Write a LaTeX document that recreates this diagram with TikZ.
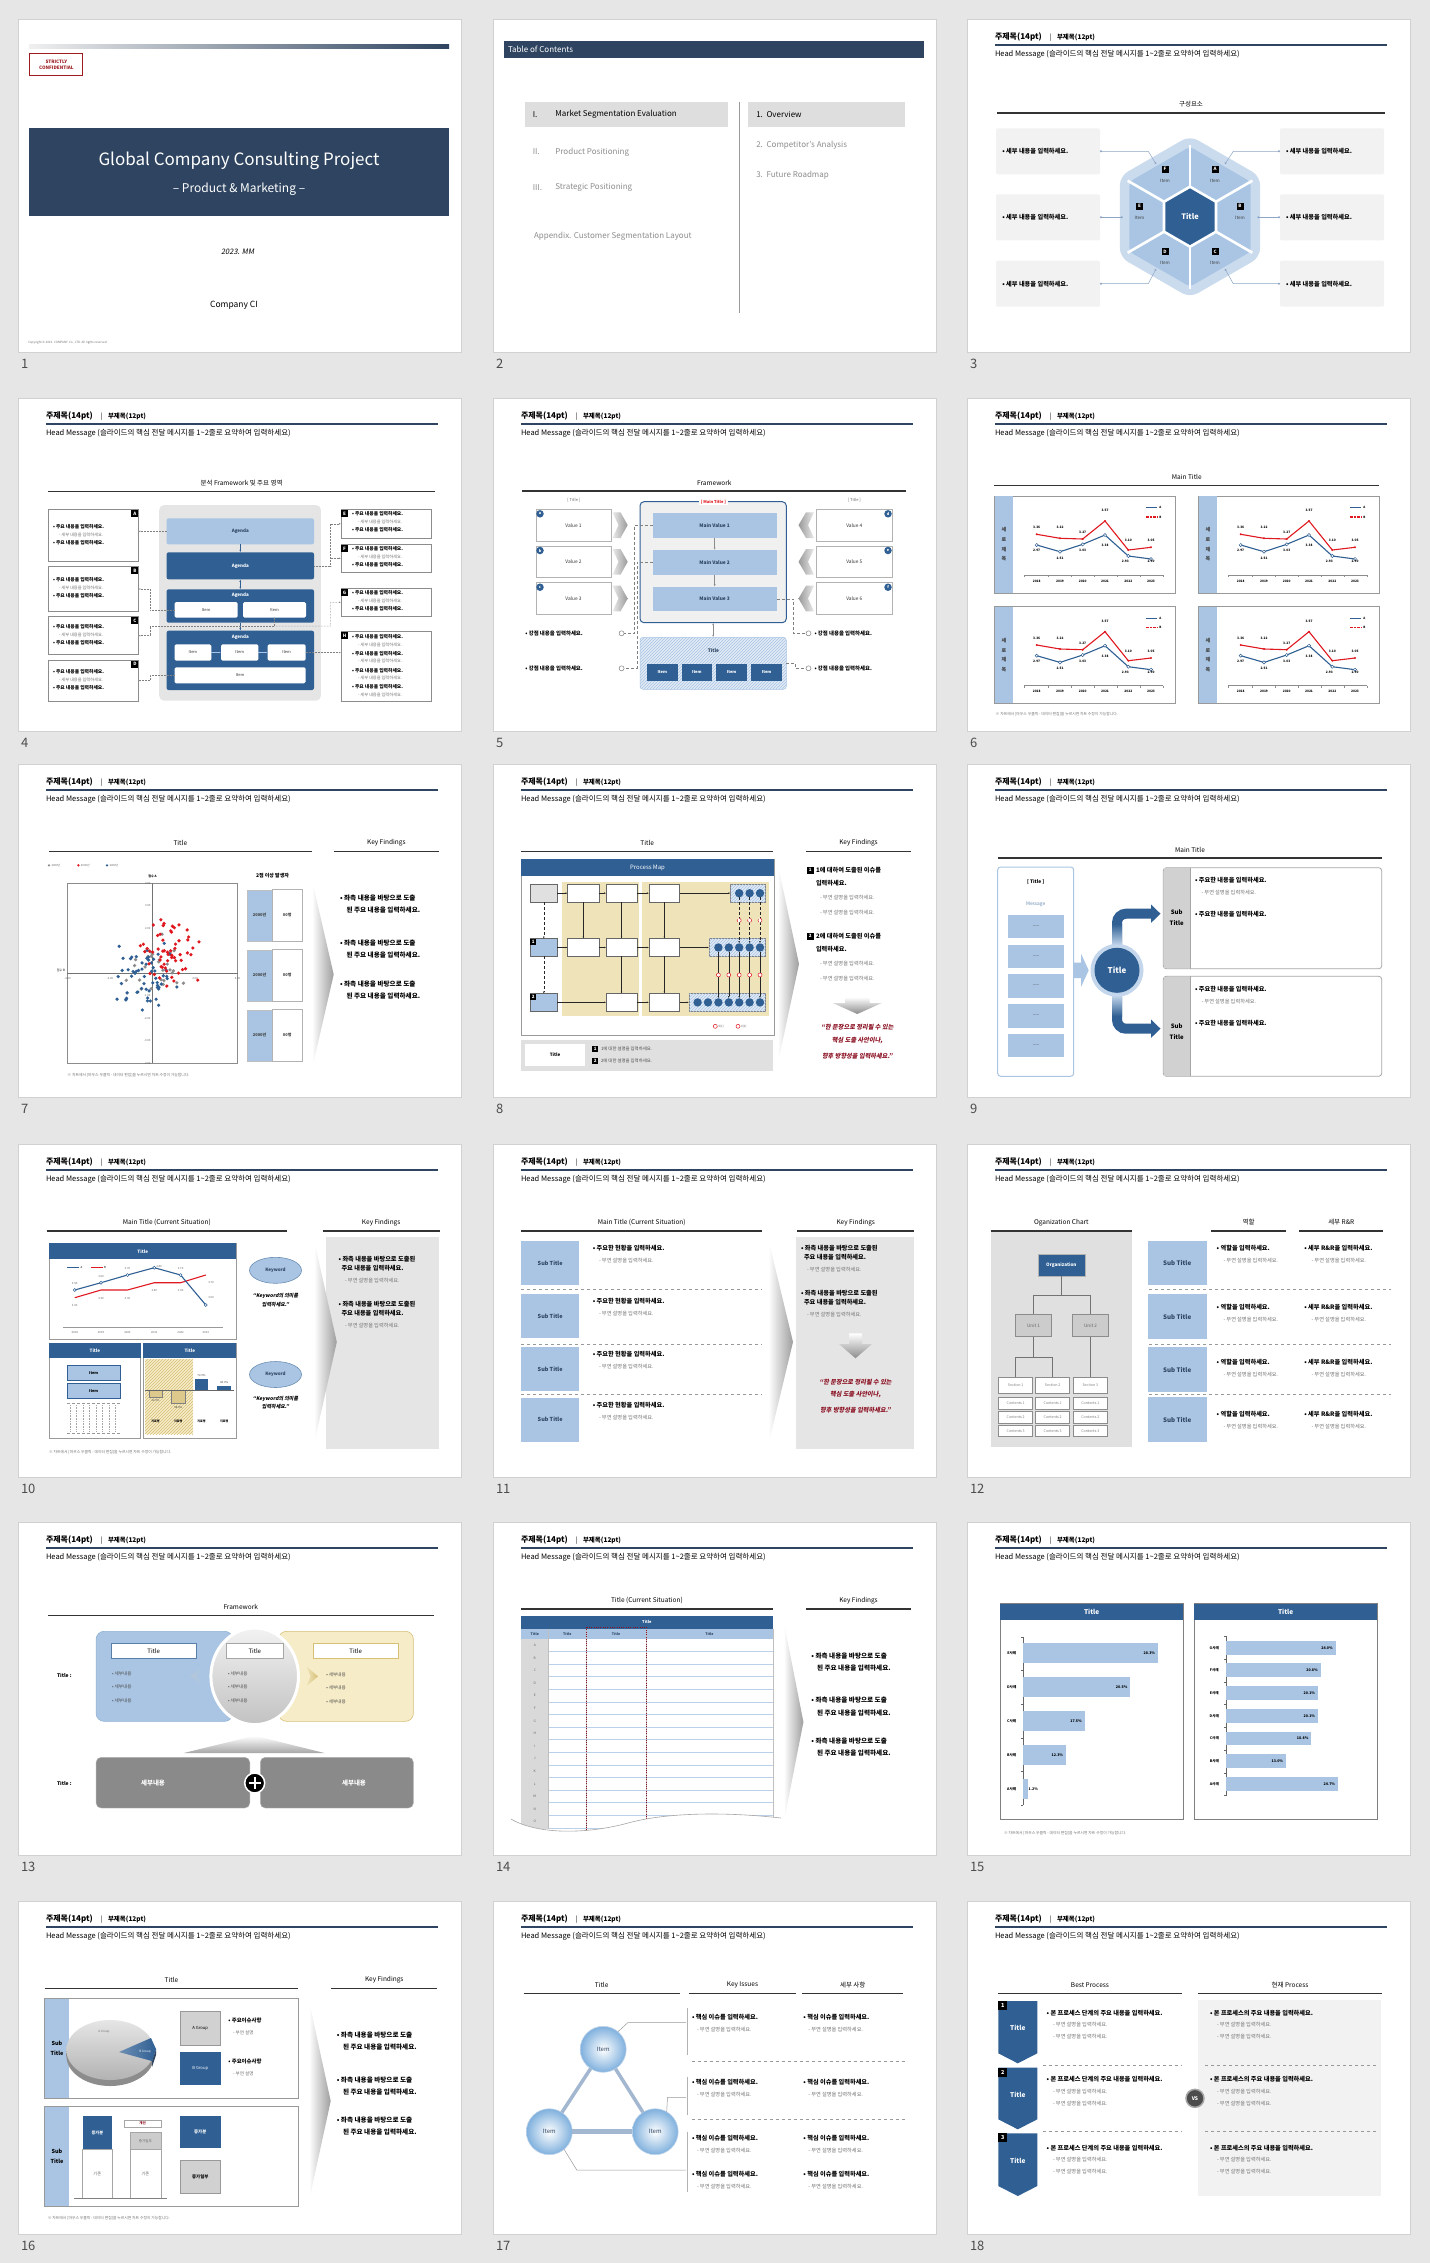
\documentclass[tikz,border=0pt]{standalone}
\usepackage{fontspec}
\setmainfont{Noto Sans CJK KR}
\newfontfamily\slantfont[FakeSlant=0.18]{Noto Sans CJK KR}
\usetikzlibrary{positioning,arrows.meta,patterns,shapes.geometric}

\definecolor{pagebg}{HTML}{E6E6E6}
\definecolor{slatenavy}{HTML}{2E4460}
\definecolor{mainnavy}{HTML}{2F5F93}
\definecolor{paleblue}{HTML}{A9C5E3}
\definecolor{hexlight}{HTML}{CADBEE}
\definecolor{panelgray}{HTML}{F2F2F2}
\definecolor{confred}{HTML}{9E1B20}
\definecolor{chartred}{HTML}{E01820}
\definecolor{quotered}{HTML}{8B1022}
\definecolor{sand}{HTML}{EFE4B9}
\definecolor{sandlight}{HTML}{F6ECC8}
\definecolor{sandline}{HTML}{D6BF76}
\definecolor{linkblue}{HTML}{8EA6C4}
\definecolor{sphereblue}{HTML}{7FB0DD}
\definecolor{edgeblue}{HTML}{A3B7D0}
\definecolor{darkgraybox}{HTML}{8A8A8A}

\newcommand{\fsz}[1]{\fontsize{#1}{#1}\selectfont}

\tikzset{
  slide/.style={fill=white, draw=black!18, line width=0.8pt},
  slnum/.style={font=\fsz{13}, text=black!70, anchor=west},
  hdtitle/.style={font=\fsz{8}\bfseries, anchor=west},
  hdsub/.style={font=\fsz{6.5}\bfseries, anchor=west},
  hdmsg/.style={font=\fsz{7.5}, anchor=west},
  hdline/.style={draw=slatenavy, line width=1.2pt},
  secline/.style={draw=black!80, line width=1.1pt},
  sechead/.style={font=\fsz{6.5}},
  toc/.style={font=\fsz{8}, anchor=west},
  bul/.style={font=\fsz{6.2}\bfseries, anchor=west},
  note/.style={font=\fsz{5.2}, text=black!55, anchor=west},
  foot/.style={font=\fsz{3.8}, text=black!55, anchor=west},
  finding/.style={font=\fsz{6.6}\bfseries, anchor=west},
  redquote/.style={font=\fsz{6.2}\slantfont\bfseries, text=quotered},
  navybox/.style={fill=mainnavy, text=white},
  palebox/.style={fill=paleblue},
  whitebox/.style={fill=white, draw=black!45, line width=0.6pt},
  graybox/.style={fill=panelgray},
  itembox/.style={fill=white, rounded corners=1.5pt, font=\fsz{4}, text=black!80},
  letterbox/.style={fill=black, text=white, font=\fsz{4.5}\bfseries, minimum size=7pt},
  dotlink/.style={draw=black!50, densely dotted, line width=0.5pt, -{Latex[length=2pt]}},
  dashlink/.style={draw=black!50, densely dashed, line width=0.5pt},
  hexlink/.style={draw=linkblue, line width=0.5pt, {Circle[length=2pt]}-{Circle[length=2pt]}},
  navyarrow/.style={draw=mainnavy, line width=0.8pt, -{Latex[length=2.5pt]}},
  grayarrow/.style={draw=black!45, line width=0.8pt, -{Latex[length=2.5pt]}},
  pmarrow/.style={draw=black!85, line width=0.5pt, -{Latex[length=2.2pt]}},
  sepline/.style={draw=black!40, dashed, line width=0.5pt},
  hatched/.style={fill=paleblue!35, draw=black!50, line width=0.5pt, postaction={pattern=north east lines, pattern color=paleblue}},
  redring/.style={circle, draw=chartred, fill=white, line width=0.5pt, minimum size=4pt},
  sphere/.style={circle, minimum size=46pt, inner color=white, outer color=sphereblue, draw=paleblue!70, line width=0.6pt, font=\fsz{6}, text=slatenavy},
}

% box given by its top left and bottom right corner
\newcommand{\bx}[7]{\node[#1, anchor=north west, minimum width={(#5-#3)*1pt}, minimum height={(#6-#4)*1pt}] (#2) at (#3,#4) {#7};}
\newcommand{\slideframe}[2]{\draw[slide] (0,0) rectangle (443,333); \node[slnum] (#1) at (3,345) {#2};}
\newcommand{\slidehead}[1]{%
  \node[hdtitle] (#1ht) at (28,18) {주제목(14pt)};
  \node[hdsub, text=black!55] (#1bar) at (82.5,18.5) {|};
  \node[hdsub] (#1hs) at (90,18.5) {부제목(12pt)};
  \draw[hdline] (28,26) -- (420,26);
  \node[hdmsg] (#1hm) at (28,35.5) {Head Message (슬라이드의 핵심 전달 메시지를 1\textasciitilde 2줄로 요약하여 입력하세요)};
}
\newcommand{\sectitle}[5]{%
  \draw[secline] (#2,#4) -- (#3,#4);
  \node[sechead] (#1) at ({(#2+#3)/2},{#4-8.5}) {#5};
}
\newcommand{\fadearrow}[4]{\shade[left color=white, right color=black!38] (#1,#3) -- (#2,{(#3+#4)/2}) -- (#1,#4) -- cycle;}
\newcommand{\chartnote}[3]{\node[foot] (#1) at (#2,#3) {※ 차트에서 [마우스 우클릭 - 데이터 편집]을 누르시면 차트 수정이 가능합니다.};}

\newcommand{\trendpanel}[3]{%
  \begin{scope}[shift={(#2,#3)}]
    \bx{whitebox, draw=black!40, line width=0.8pt}{#1}{0}{0}{181}{97}{}
    \fill[paleblue] (0.4,0.4) rectangle (19,96.6);
    \node[font=\fontsize{5}{9.6}\selectfont\bfseries, align=center, text=black!75] (#1v) at (9.5,48.5) {세\\로\\제\\목};
    \draw[black!45, line width=0.5pt] (29.7,79) -- (169,79);
    \foreach \x in {29.7,54,77,99.5,122.4,145.4,169}
      \draw[black!45, line width=0.4pt] (\x,79) -- (\x,81);
    \foreach \x/\yr in {42.4/2018,65.7/2019,88.4/2020,110.7/2021,134/2022,156.7/2023}
      \node[font=\fsz{3.2}\bfseries] (#1y\yr) at (\x,85) {\yr};
    \draw[chartred, line width=1.1pt] (42.4,38.3) -- (65.7,42.3) -- (88.4,43) -- (110.7,25) -- (134,54) -- (156.7,51.3);
    \draw[mainnavy, line width=1.1pt] (42.4,49) -- (65.7,55.7) -- (88.4,48.3) -- (110.7,39) -- (134,60) -- (156.7,63);
    \foreach \x/\y in {42.4/38.3,65.7/42.3,88.4/43,110.7/25,134/54,156.7/51.3}
      \fill[chartred] (\x,\y) circle (1.1);
    \foreach \x/\y in {42.4/49,65.7/55.7,88.4/48.3,110.7/39,134/60,156.7/63}
      \filldraw[fill=white, draw=mainnavy, line width=0.5pt] (\x,\y) circle (1.6);
    \foreach \x/\y/\val [count=\i] in {42.4/31.5/3.36,65.7/31.5/3.22,88.4/36.7/3.27,110.7/14.7/3.57,134/44.7/3.10,156.7/44.3/3.05}
      \node[font=\fsz{3.2}\bfseries] (#1r\i) at (\x,\y) {\val};
    \foreach \x/\y/\val [count=\i] in {42.4/54.3/2.97,65.7/62/2.51,88.4/54.3/3.03,110.7/49.3/3.38,131/65.5/2.93,156.7/65.5/2.90}
      \node[font=\fsz{3.2}\bfseries] (#1b\i) at (\x,\y) {\val};
    \draw[mainnavy, line width=1.1pt] (152,11.7) -- (163,11.7);
    \node[font=\fsz{3}\bfseries] (#1la) at (166,11.7) {A};
    \draw[chartred, line width=1.1pt, dash pattern=on 2.5pt off 1pt] (152,21) -- (163,21);
    \node[font=\fsz{3}\bfseries] (#1lb) at (166,21) {B};
  \end{scope}}

\begin{document}
\begin{tikzpicture}[x=1pt, y=-1pt, every node/.append style={inner sep=0pt, outer sep=0pt}]
\useasboundingbox (0,0) rectangle (1430,2263);
\fill[pagebg] (0,0) rectangle (1430,2263);

% slide 1: cover
\begin{scope}[shift={(18,19)}]
  \slideframe{s1n}{1}
  \shade[left color=black!6, right color=slatenavy] (11.4,25) rectangle (431,29);
  \node[draw=confred, line width=0.9pt, fill=white, text=confred, font=\fontsize{4.6}{6}\selectfont\bfseries, align=center, minimum width=53pt, minimum height=22pt] (s1conf) at (38.4,45.5) {STRICTLY\\CONFIDENTIAL};
  \bx{fill=slatenavy}{s1band}{11.4}{109}{431}{197}{}
  \node[font=\fsz{17}, text=white] (s1title) at (221,141.5) {Global Company Consulting Project};
  \node[font=\fsz{12}, text=white] (s1sub) at (221,170.3) {– Product \& Marketing –};
  \node[font=\fsz{7.5}\slantfont] (s1date) at (219.6,233) {2023. MM};
  \node[font=\fsz{8.5}] (s1ci) at (216,286) {Company CI};
  \node[foot, font=\fsz{3}] (s1copy) at (10,323.7) {Copyright © 2023. COMPANY. Co., LTD. All rights reserved.};
\end{scope}

% slide 2: contents
\begin{scope}[shift={(493,19)}]
  \slideframe{s2n}{2}
  \bx{fill=slatenavy}{s2bar}{11}{22}{430.5}{39.3}{}
  \node[toc, text=white] (s2toc) at (15,30.7) {Table of Contents};
  \bx{fill=black!13}{s2sel}{32.4}{82.7}{234.5}{107.7}{}
  \bx{fill=black!13}{s2ovb}{255.3}{82.7}{412}{107.7}{}
  \draw[black!40, line width=0.6pt] (246.7,82.7) -- (246.7,294.3);
  \node[toc] (s2r1) at (39.8,95.2) {I.};
  \node[toc] (s2p1) at (62.4,95.2) {Market Segmentation Evaluation};
  \node[toc, text=black!45] (s2r2) at (39.8,133) {II.};
  \node[toc, text=black!45] (s2p2) at (62.4,133) {Product Positioning};
  \node[toc, text=black!45] (s2r3) at (39.8,168.7) {III.};
  \node[toc, text=black!45] (s2p3) at (62.4,168.7) {Strategic Positioning};
  \node[toc, text=black!45] (s2app) at (41,217.3) {Appendix. Customer Segmentation Layout};
  \node[toc] (s2o1) at (263.3,95.3) {1.\ \ Overview};
  \node[toc, text=black!45] (s2o2) at (263.3,126.7) {2.\ \ Competitor's Analysis};
  \node[toc, text=black!45] (s2o3) at (263.3,156.7) {3.\ \ Future Roadmap};
\end{scope}

% slide 3: hexagon
\begin{scope}[shift={(967,19)}]
  \slideframe{s3n}{3}
  \slidehead{s3}
  \sectitle{s3sec}{30.3}{417.7}{94}{구성요소}
  \foreach \ya [count=\i] in {109.3,175.3,241.7} {
    \bx{graybox, rounded corners=2pt}{s3l\i}{29}{\ya}{133}{\ya+46}{}
    \bx{graybox, rounded corners=2pt}{s3r\i}{313}{\ya}{417}{\ya+46}{}
    \node[bul] (s3lt\i) at (35.3,\ya+23) {• 세부 내용을 입력하세요.};
    \node[bul] (s3rt\i) at (319,\ya+23) {• 세부 내용을 입력하세요.};
  }
  \begin{scope}[shift={(223,197.7)}]
    \fill[hexlight, rounded corners=9pt] (90:81) -- (30:81) -- (-30:81) -- (-90:81) -- (-150:81) -- (150:81) -- cycle;
    \fill[paleblue, rounded corners=4pt] (90:70) -- (30:70) -- (-30:70) -- (-90:70) -- (-150:70) -- (150:70) -- cycle;
    \foreach \a in {90,30,-30,-90,-150,150}
      \draw[white, line width=2.6pt] (0,0) -- (\a:72);
    \filldraw[fill=mainnavy, draw=white, line width=2.6pt] (90:30) -- (30:30) -- (-30:30) -- (-90:30) -- (-150:30) -- (150:30) -- cycle;
    \node[font=\fsz{7.5}\bfseries, text=white] (s3title) at (0,0) {Title};
    \foreach \lt/\x/\y in {A/25/-47.4, B/50/-10.7, C/25/35, D/-25/35, E/-50.5/-10.7, F/-25/-47.4} {
      \node[letterbox] (s3k\lt) at (\x,\y) {\lt};
      \node[font=\fsz{4.5}, text=black!75] (s3i\lt) at (\x,\y+11.5) {Item};
    }
  \end{scope}
  \coordinate (s3pA) at (258,145);
  \coordinate (s3pB) at (290.3,198.3);
  \coordinate (s3pC) at (258,250);
  \coordinate (s3pD) at (189,250);
  \coordinate (s3pE) at (155.7,198.3);
  \coordinate (s3pF) at (189,145);
  \draw[hexlink] (s3l1.east) -- (181.3,132.3) -- (s3pF);
  \draw[hexlink] (s3l2.east) -- (s3pE);
  \draw[hexlink] (s3l3.east) -- (181.3,264.7) -- (s3pD);
  \draw[hexlink] (s3pA) -- (266.3,132.3) -- (s3r1.west);
  \draw[hexlink] (s3pB) -- (s3r2.west);
  \draw[hexlink] (s3pC) -- (266.3,264.7) -- (s3r3.west);
\end{scope}

% slide 4: framework with agendas
\begin{scope}[shift={(18,398)}]
  \slideframe{s4n}{4}
  \slidehead{s4}
  \sectitle{s4sec}{29.8}{417.4}{93.7}{분석 Framework 및 주요 영역}
  \foreach \nm/\ya/\yb in {A/111.3/163.7, B/168.7/213.3, C/218.7/256.7, D/262/303.3} {
    \bx{whitebox}{s4box\nm}{29.8}{\ya}{120.4}{\yb}{}
    \node[letterbox, anchor=north east] (s4let\nm) at (120.4,\ya+0.6) {\nm};
    \pgfmathsetmacro{\yc}{(\ya+\yb)/2}
    \node[bul, font=\fsz{4.8}\bfseries] (s4b\nm1) at (35,\yc-9) {• 주요 내용을 입력하세요.};
    \node[note, font=\fsz{4.2}] (s4b\nm2) at (41,\yc-1) {- 세부 내용을 입력하세요.};
    \node[bul, font=\fsz{4.8}\bfseries] (s4b\nm3) at (35,\yc+7) {• 주요 내용을 입력하세요.};
  }
  \bx{fill=black!10, rounded corners=5pt}{s4bg}{141.2}{107}{302.9}{302.7}{}
  \bx{palebox, rounded corners=2pt, font=\fsz{4.5}\bfseries, text=slatenavy}{s4ag1}{148.6}{120.3}{296}{146.3}{Agenda}
  \bx{navybox, rounded corners=2pt, font=\fsz{4.5}\bfseries}{s4ag2}{148.6}{154.3}{296}{181.3}{Agenda}
  \bx{navybox, rounded corners=2pt}{s4ag3}{148.6}{191.3}{296}{224.7}{}
  \bx{navybox, rounded corners=2pt}{s4ag4}{148.6}{232.7}{296}{292}{}
  \node[font=\fsz{4.5}\bfseries, text=white] (s4ag3t) at (222.3,197.5) {Agenda};
  \node[font=\fsz{4.5}\bfseries, text=white] (s4ag4t) at (222.3,239) {Agenda};
  \bx{itembox}{s4i31}{156.5}{204}{219.6}{219.7}{Item}
  \bx{itembox}{s4i32}{225}{204}{288}{219.7}{Item}
  \bx{itembox}{s4i41}{156.5}{246.3}{193.3}{262.7}{Item}
  \bx{itembox}{s4i42}{203}{246.3}{240.4}{262.7}{Item}
  \bx{itembox}{s4i43}{249.6}{246.3}{287.6}{262.7}{Item}
  \bx{itembox}{s4i44}{156.5}{269.3}{287.6}{285.3}{Item}
  \draw[navyarrow] (s4ag1) -- (s4ag2);
  \draw[navyarrow, {Latex[length=2.5pt]}-{Latex[length=2.5pt]}] (s4ag2) -- (s4ag3);
  \draw[navyarrow] (s4ag3) -- (s4ag4);
  \draw[paleblue, line width=0.6pt, -{Latex[length=2pt]}] (s4i41) -- (s4i42);
  \draw[paleblue, line width=0.6pt, -{Latex[length=2pt]}] (s4i42) -- (s4i43);
  \foreach \nm/\ya/\yb in {E/111.3/140.3, F/146.3/174.3, G/190.3/218.3, H/233.3/303.3} {
    \bx{whitebox}{s4box\nm}{323}{\ya}{413.7}{\yb}{}
    \node[letterbox, anchor=north west] (s4let\nm) at (323,\ya+0.6) {\nm};
  }
  \foreach \nm/\ya in {E/111.3, F/146.3, G/190.3} {
    \node[bul, font=\fsz{4.8}\bfseries] (s4b\nm1) at (334,\ya+4.5) {• 주요 내용을 입력하세요.};
    \node[note, font=\fsz{4.2}] (s4b\nm2) at (340,\ya+12.6) {- 세부 내용을 입력하세요.};
    \node[bul, font=\fsz{4.8}\bfseries] (s4b\nm3) at (334,\ya+20.8) {• 주요 내용을 입력하세요.};
  }
  \foreach \y [count=\i] in {239,255.3,272.3,288.7} {
    \node[bul, font=\fsz{4.8}\bfseries] (s4bHa\i) at (334,\y) {• 주요 내용을 입력하세요.};
    \node[note, font=\fsz{4.2}] (s4bHb\i) at (340,\y+8) {- 세부 내용을 입력하세요.};
  }
  \draw[dotlink] (s4ag1.west) -- (s4ag1.west -| s4boxA.east);
  \draw[dotlink] (s4i31.west) -- ++(-24.5,0) |- (s4boxB.east);
  \draw[dotlink] (s4i32.south) -- ++(0,8.3) -| (132,237.7) -- (s4boxC.east);
  \draw[dotlink] (s4i32.south) ++(0,8.3) -- (312.7,228) |- (s4boxG.west);
  \draw[dotlink] (s4i44.west) -- ++(-24.5,0) |- (s4boxD.east);
  \draw[dotlink] (s4ag2.east) -- ++(16.7,0) |- (s4boxE.west);
  \draw[dotlink] (s4ag2.east) -- ++(16.7,0) |- (s4boxF.west);
  \draw[dotlink] (s4i43.east) -- (s4i43.east -| s4boxH.west);
\end{scope}

% slide 5: framework with values
\begin{scope}[shift={(493,398)}]
  \slideframe{s5n}{5}
  \slidehead{s5}
  \sectitle{s5sec}{29.4}{413.3}{93}{Framework}
  \node[font=\fsz{4}, text=black!60] (s5tl) at (80.8,102) {[ Title ]};
  \node[font=\fsz{4}, text=black!60] (s5tr) at (361.3,102) {[ Title ]};
  \bx{fill=black!6, draw=mainnavy, line width=1pt, rounded corners=4pt}{s5main}{147}{103.7}{293.3}{224.7}{}
  \node[fill=white, text=chartred, font=\fsz{4}\bfseries, inner xsep=2pt, inner ysep=1pt] (s5mt) at (220.4,103.7) {[ Main Title ]};
  \foreach \ya [count=\i] in {115.3,152,188.7} {
    \bx{palebox, font=\fsz{4.8}\bfseries, text=slatenavy}{s5mv\i}{159.8}{\ya}{283.5}{\ya+24.5}{Main Value \i}
  }
  \draw[grayarrow] (s5mv1) -- (s5mv2);
  \draw[grayarrow] (s5mv2) -- (s5mv3);
  \foreach \ya/\lt [count=\i] in {111.3/a,148/b,184.7/c} {
    \bx{whitebox, draw=black!30, font=\fsz{4.8}, text=black!80}{s5v\i}{42.8}{\ya}{118}{\ya+31.7}{Value \i}
    \node[circle, fill=mainnavy, text=white, font=\fsz{3.8}\bfseries, minimum size=7.5pt] (s5c\lt) at (47,\ya+4.5) {\lt};
    \shade[left color=black!8, right color=black!40] (119.5,\ya+3) -- (127.5,\ya+3) -- (134.7,\ya+15.8) -- (127.5,\ya+28.7) -- (119.5,\ya+28.7) -- (125.5,\ya+15.8) -- cycle;
  }
  \foreach \ya/\lt/\num in {111.3/d/4,148/e/5,184.7/f/6} {
    \bx{whitebox, draw=black!30, font=\fsz{4.8}, text=black!80}{s5v\num}{323.3}{\ya}{399.2}{\ya+31.7}{Value \num}
    \node[circle, fill=mainnavy, text=white, font=\fsz{3.8}\bfseries, minimum size=7.5pt] (s5c\lt) at (395,\ya+4.5) {\lt};
    \shade[left color=black!40, right color=black!8] (321,\ya+3) -- (313,\ya+3) -- (305.5,\ya+15.8) -- (313,\ya+28.7) -- (321,\ya+28.7) -- (315,\ya+15.8) -- cycle;
  }
  \bx{hatched, draw=paleblue, rounded corners=3pt}{s5tb}{147}{239.3}{293.3}{291.3}{}
  \node[font=\fsz{4.8}\bfseries, text=slatenavy] (s5tbt) at (220.4,253) {Title};
  \foreach \x [count=\i] in {154,188.6,223.4,258.4} {
    \bx{navybox, font=\fsz{4}\bfseries}{s5it\i}{\x}{266}{\x+30.5}{282.7}{Item}
  }
  \draw[grayarrow, {Latex[length=2.5pt]}-{Latex[length=2.5pt]}] (s5main.south) -- (s5tb.north);
  \node[bul, font=\fsz{5.4}\bfseries] (s5sl1) at (32.4,235.3) {• 강점 내용을 입력하세요.};
  \node[bul, font=\fsz{5.4}\bfseries] (s5sl2) at (32.4,270.3) {• 강점 내용을 입력하세요.};
  \node[bul, font=\fsz{5.4}\bfseries] (s5sr1) at (321.5,235.3) {• 강점 내용을 입력하세요.};
  \node[bul, font=\fsz{5.4}\bfseries] (s5sr2) at (321.5,270.3) {• 강점 내용을 입력하세요.};
  \node[circle, draw=black!50, fill=white, line width=0.5pt, minimum size=5pt] (s5o1) at (128.6,235.3) {};
  \node[circle, draw=black!50, fill=white, line width=0.5pt, minimum size=5pt] (s5o2) at (128.6,270.3) {};
  \node[circle, draw=black!50, fill=white, line width=0.5pt, minimum size=5pt] (s5o3) at (315.5,235.3) {};
  \node[circle, draw=black!50, fill=white, line width=0.5pt, minimum size=5pt] (s5o4) at (315.5,270.3) {};
  \draw[dashlink] (s5mv1.west) -| (140.8,235.3) -- (s5o1);
  \draw[dashlink] (s5mv2.west) -| (144,270.3) -- (s5o2);
  \draw[dashlink] (s5mv3.east) -| (300,235.3) -- (s5o3);
  \draw[dashlink] (s5tb.east) -| (302.5,270.3) -- (s5o4);
\end{scope}

% slide 6: four trend charts
\begin{scope}[shift={(967,398)}]
  \slideframe{s6n}{6}
  \slidehead{s6}
  \sectitle{s6sec}{27.3}{412.3}{87.7}{Main Title}
  \trendpanel{s6a}{27.3}{98}
  \trendpanel{s6b}{231.3}{98}
  \trendpanel{s6c}{27.3}{208.7}
  \trendpanel{s6d}{231.3}{208.7}
  \chartnote{s6note}{28.7}{316}
\end{scope}

% slide 7: scatter plot
\begin{scope}[shift={(18,764)}]
  \slideframe{s7n}{7}
  \slidehead{s7}
  \sectitle{s7sec}{31}{293.7}{87.7}{Title}
  \sectitle{s7key}{315.7}{421}{87.7}{Key Findings}
  \foreach \cl/\x [count=\i] in {black!45/31, chartred/60.4, mainnavy/89} {
    \fill[\cl] (\x,101.3) circle (1.3);
    \node[font=\fsz{2.8}, text=black!60, anchor=west] (s7lg\i) at (\x+2.5,101.3) {2000년};
  }
  \draw[black!45, line width=0.5pt] (49.4,119) rectangle (219.6,299);
  \draw[black!55, line width=0.5pt] (134.5,119) -- (134.5,299);
  \draw[black!55, line width=0.5pt] (49.4,209) -- (219.6,209);
  \node[font=\fsz{3}\bfseries] (s7ya) at (134.5,112) {점수 A};
  \node[font=\fsz{3}, anchor=east] (s7xa) at (47,206) {점수 B};
  \foreach \j in {-4,-3,-2,-1,1,2,3,4}
    \node[font=\fsz{2.8}, text=black!60, anchor=east] (s7v\j) at (132.5,{209-22.5*\j}) {\j.00};
  \foreach \j/\lab in {-2/-4.00,-1/-2.00,1/2.00,2/4.00}
    \node[font=\fsz{2.8}, text=black!60] (s7h\j) at ({134.5+42.5*\j},214.5) {\lab};
  \pgfmathsetseed{11}
  \foreach \i in {1,...,26} {
    \pgfmathsetmacro{\px}{136+19*(rand+rand)}
    \pgfmathsetmacro{\py}{198+20*(rand+rand)}
    \fill[black!45] (\px,\py) circle (1.8);
  }
  \foreach \i in {1,...,60} {
    \pgfmathsetmacro{\px}{128+17*(rand+rand)}
    \pgfmathsetmacro{\py}{212+20*(rand+rand)}
    \fill[mainnavy] (\px,\py) circle (1.8);
  }
  \foreach \i in {1,...,60} {
    \pgfmathsetmacro{\px}{150+17*(rand+rand)}
    \pgfmathsetmacro{\py}{190+20*(rand+rand)}
    \fill[chartred] (\px,\py) circle (1.8);
  }
  \node[bul, font=\fsz{5}\bfseries, anchor=center] (s7cnt) at (254.5,111.7) {2점 이상 발생자};
  \foreach \ya [count=\i] in {125.7,185.7,245.7} {
    \bx{palebox, draw=black!25, font=\fsz{4}\bfseries, text=black!75}{s7yr\i}{228.8}{\ya}{254.5}{\ya+51.3}{2000년}
    \bx{whitebox, draw=black!30, font=\fsz{4}\bfseries, text=black!75}{s7ct\i}{254.5}{\ya}{283.9}{\ya+51.3}{00명}
  }
  \fadearrow{294}{315.7}{116}{305}
  \foreach \y [count=\i] in {134,178.7,219.7} {
    \node[finding] (s7fa\i) at (322,\y) {• 좌측 내용을 바탕으로 도출};
    \node[finding] (s7fb\i) at (328.5,\y+12.5) {된 주요 내용을 입력하세요.};
  }
  \chartnote{s7note}{49.4}{311.3}
\end{scope}

% slide 8: process map
\begin{scope}[shift={(493,764)}]
  \slideframe{s8n}{8}
  \slidehead{s8}
  \sectitle{s8sec}{28}{280.4}{87.7}{Title}
  \sectitle{s8key}{312.9}{418.2}{87.7}{Key Findings}
  \bx{whitebox, draw=black!40}{s8map}{28}{95.3}{281}{271.3}{}
  \bx{navybox, font=\fsz{6}}{s8mh}{28}{95.3}{281}{112.3}{Process Map}
  \fill[sand] (69.1,118.3) rectangle (146.3,252.3);
  \fill[sand] (149.4,118.3) rectangle (275.5,252.3);
  \bx{fill=black!12, draw=black!60, line width=0.5pt}{s8a0}{37.3}{120}{64.3}{138.3}{}
  \bx{fill=paleblue, draw=black!60, line width=0.5pt}{s8b0}{37.3}{174.7}{64.3}{192.3}{}
  \bx{fill=paleblue, draw=black!60, line width=0.5pt}{s8c0}{37.3}{229.7}{64.3}{247}{}
  \node[letterbox, minimum size=6pt, anchor=north west] (s8n1) at (s8b0.north west) {1};
  \node[letterbox, minimum size=6pt, anchor=north west] (s8n2) at (s8c0.north west) {2};
  \foreach \nm/\ya/\yb in {a/120/138.3, b/174.7/192.3} {
    \bx{whitebox, draw=black!60, line width=0.5pt}{s8\nm1}{74.7}{\ya}{106}{\yb}{}
  }
  \foreach \nm/\ya/\yb in {a/120/138.3, b/174.7/192.3, c/229.7/247} {
    \bx{whitebox, draw=black!60, line width=0.5pt}{s8\nm2}{113.2}{\ya}{143.9}{\yb}{}
    \bx{whitebox, draw=black!60, line width=0.5pt}{s8\nm3}{156.1}{\ya}{186.7}{\yb}{}
  }
  \bx{hatched}{s8h1}{237.6}{120}{272.5}{138.3}{}
  \bx{hatched}{s8h2}{216.1}{174.7}{272.5}{192.3}{}
  \bx{hatched}{s8h3}{195.9}{229.7}{272.5}{247}{}
  \foreach \i in {1,2,3}
    \node[circle, fill=mainnavy, minimum size=8.4pt] (s8p1\i) at ({267-10.4*(\i-1)},129.2) {};
  \foreach \i in {1,...,5}
    \node[circle, fill=mainnavy, minimum size=8.4pt] (s8p2\i) at ({267-10.4*(\i-1)},183.5) {};
  \foreach \i in {1,...,7}
    \node[circle, fill=mainnavy, minimum size=8.4pt] (s8p3\i) at ({267-10.4*(\i-1)},238.4) {};
  \draw[pmarrow] (s8a0) -- (s8a1);
  \draw[pmarrow] (s8a1) -- (s8a2);
  \draw[pmarrow] (s8a2) -- (s8a3);
  \draw[pmarrow] (s8a3) -- (s8h1);
  \draw[pmarrow] (s8b0) -- (s8b1);
  \draw[pmarrow] (s8b1) -- (s8b2);
  \draw[pmarrow] (s8b2) -- (s8b3);
  \draw[pmarrow] (s8b3) -- (s8h2);
  \draw[pmarrow] (s8c0) -- (s8c2);
  \draw[pmarrow] (s8c2) -- (s8c3);
  \draw[pmarrow] (s8c3) -- (s8h3);
  \draw[pmarrow] (s8a1) -- (s8b1);
  \draw[pmarrow] (s8a2) -- (s8b2);
  \draw[pmarrow] (s8b2) -- (s8c2);
  \draw[pmarrow] (s8a3) -- (s8b3);
  \draw[pmarrow] (s8b3) -- (s8c3);
  \draw[pmarrow, densely dashed] (s8a0) -- (s8b0);
  \draw[pmarrow, densely dashed] (s8b0) -- (s8c0);
  \foreach \i in {1,2,3}
    \draw[pmarrow, densely dashed] (s8p1\i) -- node[redring] {} (s8p2\i);
  \foreach \i in {1,...,5}
    \draw[pmarrow] (s8p2\i) -- node[redring] {} (s8p3\i);
  \node[redring] (s8lg1) at (222.3,262.3) {};
  \node[font=\fsz{3}, text=black!60, anchor=west] (s8lt1) at (225.5,262.3) {0(1)};
  \node[redring] (s8lg2) at (245,262.3) {};
  \node[font=\fsz{3}, text=black!60, anchor=west] (s8lt2) at (248.2,262.3) {0(2)};
  \bx{fill=black!12}{s8leg}{28}{276.3}{280.4}{307.3}{}
  \bx{fill=white, font=\fsz{4.5}\bfseries}{s8legt}{32.4}{279.7}{91.8}{302.3}{Title}
  \node[letterbox, minimum size=6pt] (s8k1) at (102.2,285.3) {1};
  \node[letterbox, minimum size=6pt] (s8k2) at (102.2,297) {2};
  \node[note, font=\fsz{4.4}, text=black!70] (s8kt1) at (108,285.3) {1에 대한 설명을 입력하세요.};
  \node[note, font=\fsz{4.4}, text=black!70] (s8kt2) at (108,297) {2에 대한 설명을 입력하세요.};
  \fadearrow{284.7}{306}{100}{300}
  \foreach \i/\dy in {1/0,2/66} {
    \node[letterbox] (s8f\i) at (317.2,106.3+\dy) {\i};
    \node[bul] (s8fa\i) at (323,106.3+\dy) {{\i}에 대하여 도출된 이슈를};
    \node[bul] (s8fb\i) at (323,119+\dy) {입력하세요.};
    \node[note] (s8fc\i) at (327,134+\dy) {- 부연 설명을 입력하세요.};
    \node[note] (s8fd\i) at (327,148.7+\dy) {- 부연 설명을 입력하세요.};
  }
  \shade[top color=white, bottom color=black!45] (352,233) -- (376.6,233) -- (376.6,239) -- (388.8,239) -- (364.3,250) -- (339.8,239) -- (352,239) -- cycle;
  \node[redquote] (s8q1) at (364.3,263) {“한 문장으로 정리될 수 있는};
  \node[redquote] (s8q2) at (364.3,276.3) {핵심 도출 사안이나,};
  \node[redquote] (s8q3) at (364.3,292) {향후 방향성을 입력하세요.”};
\end{scope}

% slide 9: message to two sub titles
\begin{scope}[shift={(967,764)}]
  \slideframe{s9n}{9}
  \slidehead{s9}
  \sectitle{s9sec}{31.3}{414.7}{94}{Main Title}
  \bx{fill=white, draw=paleblue, line width=1pt, rounded corners=3pt}{s9msg}{30.7}{103}{106.7}{312.3}{}
  \node[font=\fsz{4.8}\bfseries] (s9mt) at (68.7,118.3) {[ Title ]};
  \node[font=\fsz{4.8}, text=mainnavy!70] (s9mm) at (68.7,140.3) {Message};
  \foreach \ya [count=\i] in {150.7,180.7,210.3,240.3,269.7} {
    \bx{palebox, font=\fsz{4.5}, text=black!70}{s9m\i}{41.3}{\ya}{97}{\ya+23.5}{-----}
  }
  \fill[paleblue] (106.7,198.5) -- (114,198.5) -- (114,189.7) -- (121.7,206.3) -- (114,223) -- (114,214) -- (106.7,214) -- cycle;
  \bx{fill=white, draw=black!35, line width=0.8pt, rounded corners=3pt}{s9sub1}{196.3}{103.7}{414.7}{204.7}{}
  \bx{fill=white, draw=black!35, line width=0.8pt, rounded corners=3pt}{s9sub2}{196.3}{212.3}{414.7}{312.3}{}
  \fill[black!18] (196.8,104.2) rectangle (223,204.2);
  \fill[black!18] (196.8,212.8) rectangle (223,311.8);
  \draw[black!35, line width=0.8pt] (223,103.7) -- (223,204.7) (223,212.3) -- (223,312.3);
  \node[font=\fontsize{6}{11}\selectfont\bfseries, align=center] (s9st1) at (209.7,154) {Sub\\Title};
  \node[font=\fontsize{6}{11}\selectfont\bfseries, align=center] (s9st2) at (209.7,268) {Sub\\Title};
  \foreach \ya [count=\i] in {116.3,225.3} {
    \node[bul] (s9ba\i) at (228,\ya) {• 주요한 내용을 입력하세요.};
    \node[note] (s9bb\i) at (234.5,\ya+12.4) {- 부연 설명을 입력하세요.};
    \node[bul] (s9bc\i) at (228,\ya+34) {• 주요한 내용을 입력하세요.};
  }
  \node[circle, fill=paleblue!70, minimum size=53pt] (s9ring) at (150,206.3) {};
  \draw[mainnavy, line width=10pt, rounded corners=9pt] (s9ring.north) -- (150,149.7) -- (186,149.7);
  \shade[top color=mainnavy, bottom color=paleblue!70] (145,160) rectangle (155,181);
  \fill[mainnavy] (184,140.5) -- (193.5,149.7) -- (184,158.9) -- cycle;
  \draw[mainnavy, line width=10pt, rounded corners=9pt] (s9ring.south) -- (150,264.7) -- (186,264.7);
  \shade[top color=paleblue!70, bottom color=mainnavy] (145,231.5) rectangle (155,252);
  \fill[mainnavy] (184,255.5) -- (193.5,264.7) -- (184,273.9) -- cycle;
  \node[circle, fill=mainnavy, minimum size=45pt, font=\fsz{8}\bfseries, text=white] (s9title) at (s9ring) {Title};
\end{scope}

% slide 10: charts and keywords
\begin{scope}[shift={(18,1144)}]
  \slideframe{s10n}{10}
  \slidehead{s10}
  \sectitle{s10sec}{28.5}{269.2}{87}{Main Title (Current Situation)}
  \sectitle{s10key}{304.7}{421.7}{87}{Key Findings}
  \bx{whitebox, draw=black!40, line width=0.8pt}{s10ch}{31}{99.3}{218.4}{195}{}
  \bx{navybox, font=\fsz{4.5}\bfseries}{s10chh}{31}{99.3}{218.4}{115}{Title}
  \draw[black!40, line width=0.5pt] (45,183.7) -- (205,183.7);
  \foreach \x/\yr in {56.7/2018,83/2019,109.4/2020,136.3/2021,162.6/2022,187.8/2023}
    \node[font=\fsz{2.8}, text=black!60] (s10y\yr) at (\x,188.5) {\yr};
  \draw[chartred, line width=1.1pt] (56.7,153.7) -- (83,146) -- (109.4,146) -- (136.3,138.7) -- (162.6,138.7) -- (187.8,131);
  \draw[mainnavy, line width=1.1pt] (56.7,146) -- (83,138.7) -- (109.4,131) -- (136.3,123.7) -- (162.6,131) -- (187.8,161);
  \foreach \x/\y in {56.7/146,83/138.7,109.4/131,136.3/123.7,162.6/131,187.8/161}
    \filldraw[fill=white, draw=mainnavy, line width=0.5pt] (\x,\y) circle (1.5);
  \foreach \x/\y/\val [count=\i] in {56.7/139/3.50,83/132/3.60,109.4/124.5/3.70,141/122/3.80,162.6/124.5/3.70,193/153/3.00}
    \node[font=\fsz{2.8}, text=black!60] (s10bl\i) at (\x,\y) {\val};
  \foreach \x/\y/\val [count=\i] in {56.7/161/3.00,83/154/3.30,109.4/154/3.30,136.3/146.5/3.40,162.6/146.5/3.40,193/138/3.70}
    \node[font=\fsz{2.8}, text=black!60] (s10rl\i) at (\x,\y) {\val};
  \draw[mainnavy, line width=1pt] (49.4,123) -- (61,123);
  \node[font=\fsz{2.8}, anchor=west] (s10la) at (62.5,123) {A};
  \draw[chartred, line width=1pt] (73,123) -- (84.6,123);
  \node[font=\fsz{2.8}, anchor=west] (s10lb) at (86,123) {B};
  \bx{whitebox, draw=black!40, line width=0.8pt}{s10p2}{31}{199.3}{122.8}{294.3}{}
  \bx{navybox, font=\fsz{4.5}\bfseries}{s10p2h}{31}{199.3}{122.8}{214.3}{Title}
  \bx{palebox, draw=mainnavy, line width=0.5pt, font=\fsz{3.8}\bfseries}{s10it1}{49.4}{221.7}{102}{236.7}{Item}
  \bx{palebox, draw=mainnavy, line width=0.5pt, font=\fsz{3.8}\bfseries}{s10it2}{49.4}{239.3}{102}{254.3}{Item}
  \draw[black!40, densely dashed, line width=0.5pt] (49.4,259) -- (102,259) (49.4,289) -- (102,289);
  \foreach \x in {52,58.5,...,100}
    \draw[black!35, densely dotted, line width=0.6pt] (\x,261) -- (\x,287);
  \bx{whitebox, draw=black!40, line width=0.8pt}{s10p3}{125.3}{199.3}{218.4}{294.3}{}
  \bx{navybox, font=\fsz{4.5}\bfseries}{s10p3h}{125.3}{199.3}{218.4}{214.3}{Title}
  \fill[sandlight] (127,215) rectangle (175,290);
  \fill[pattern=north east lines, pattern color=sandline] (127,215) rectangle (175,290);
  \filldraw[fill=sandline!85, draw=black!50, line width=0.4pt] (130.8,246) rectangle (144.3,252.7);
  \filldraw[fill=sandline!85, draw=black!50, line width=0.4pt] (153.5,246) rectangle (167,259.3);
  \fill[mainnavy] (176.7,235.3) rectangle (190.2,246);
  \fill[mainnavy] (199.4,241.7) rectangle (212.9,246);
  \draw[black!60, line width=0.5pt] (127,246) -- (216,246);
  \foreach \x/\y/\val [count=\i] in {137.5/256.5/42.0\%,160.3/263/58.0\%,183.5/231.5/72.0\%,206.2/238/48.0\%}
    \node[font=\fsz{2.8}, text=black!70] (s10bv\i) at (\x,\y) {\val};
  \foreach \x [count=\i] in {137.5,160.3,183.5,206.2}
    \node[font=\fsz{3}\bfseries] (s10bx\i) at (\x,277.7) {지표명};
  \node[ellipse, minimum width=52pt, minimum height=26pt, fill=paleblue, draw=mainnavy!70, line width=0.6pt, font=\fsz{4.5}\bfseries, text=slatenavy] (s10kw1) at (257.5,126.3) {Keyword};
  \node[ellipse, minimum width=52pt, minimum height=26pt, fill=paleblue, draw=mainnavy!70, line width=0.6pt, font=\fsz{4.5}\bfseries, text=slatenavy] (s10kw2) at (257.5,230.5) {Keyword};
  \node[font=\fontsize{5}{8.6}\selectfont\slantfont\bfseries, align=center] (s10kq1) at (257.5,156) {“Keyword의 의미를\\입력하세요.”};
  \node[font=\fontsize{5}{8.6}\selectfont\slantfont\bfseries, align=center] (s10kq2) at (257.5,258.8) {“Keyword의 의미를\\입력하세요.”};
  \bx{fill=black!10}{s10kf}{307.8}{92.7}{420.5}{305.3}{}
  \fadearrow{296}{318.8}{96}{300}
  \foreach \y [count=\i] in {115.3,160.3} {
    \node[bul] (s10fa\i) at (320.6,\y) {• 좌측 내용을 바탕으로 도출된};
    \node[bul] (s10fb\i) at (323.5,\y+9) {주요 내용을 입력하세요.};
    \node[note] (s10fc\i) at (327,\y+21.4) {- 부연 설명을 입력하세요.};
  }
  \chartnote{s10note}{31}{308.3}
\end{scope}

% slide 11: current situation rows
\begin{scope}[shift={(493,1144)}]
  \slideframe{s11n}{11}
  \slidehead{s11}
  \sectitle{s11sec}{28}{269.4}{87}{Main Title (Current Situation)}
  \sectitle{s11key}{304.3}{421.3}{87}{Key Findings}
  \foreach \ya [count=\i] in {97,150.3,203.3,253.7} {
    \bx{palebox, font=\fsz{5.5}\bfseries, text=slatenavy}{s11sub\i}{28}{\ya}{86.3}{\ya+44}{Sub Title}
    \node[bul] (s11ba\i) at (99.8,\ya+7.3) {• 주요한 현황을 입력하세요.};
    \node[note] (s11bb\i) at (106,\ya+19.7) {- 부연 설명을 입력하세요.};
  }
  \foreach \y in {145.7,200,250.3}
    \draw[sepline] (28,\y) -- (269.4,\y);
  \bx{fill=black!10}{s11kf}{303}{92.7}{421.3}{305.3}{}
  \fadearrow{275.5}{300}{96}{300}
  \foreach \y [count=\i] in {104.3,149.3} {
    \node[bul] (s11fa\i) at (308,\y) {• 좌측 내용을 바탕으로 도출된};
    \node[bul] (s11fb\i) at (311,\y+9) {주요 내용을 입력하세요.};
    \node[note] (s11fc\i) at (314,\y+21.4) {- 부연 설명을 입력하세요.};
  }
  \shade[top color=white, bottom color=black!45] (356,189.3) -- (369,189.3) -- (369,200) -- (379,200) -- (362.5,214.3) -- (346,200) -- (356,200) -- cycle;
  \node[redquote] (s11q1) at (362.5,237.7) {“한 문장으로 정리될 수 있는};
  \node[redquote] (s11q2) at (362.5,250.3) {핵심 도출 사안이나,};
  \node[redquote] (s11q3) at (362.5,266.3) {향후 방향성을 입력하세요.”};
\end{scope}

% slide 12: organization chart
\begin{scope}[shift={(967,1144)}]
  \slideframe{s12n}{12}
  \slidehead{s12}
  \sectitle{s12sec}{23.7}{165}{87}{Oganization Chart}
  \sectitle{s12role}{244.3}{319}{87}{역할}
  \sectitle{s12rr}{332.3}{416.3}{87}{세부 R\&R}
  \bx{fill=black!12}{s12bg}{23.7}{88.3}{165}{302.7}{}
  \bx{navybox, draw=black!30, font=\fsz{4.6}\bfseries}{s12org}{71}{109.7}{117.7}{132.3}{Organization}
  \bx{fill=black!20, draw=black!45, line width=0.6pt, font=\fsz{4.6}, text=black!60}{s12u1}{48.3}{170}{84.7}{192.7}{Unit 1}
  \bx{fill=black!20, draw=black!45, line width=0.6pt, font=\fsz{4.6}, text=black!60}{s12u2}{105.3}{170}{141.7}{192.7}{Unit 2}
  \foreach \x [count=\i] in {31.7,68.7,106.3} {
    \bx{fill=white, draw=black!45, line width=0.6pt, font=\fsz{3.6}, text=black!50}{s12sec\i}{\x}{233.3}{\x+34}{249.3}{Section \i}
    \foreach \ya [count=\j] in {253.3,267.7,281} {
      \bx{fill=white, draw=black!45, line width=0.6pt, font=\fsz{3.6}, text=black!50}{s12c\i\j}{\x}{\ya}{\x+34}{\ya+11.7}{Contents \j}
    }
  }
  \draw[black!55, line width=0.7pt] (s12org.south) -- ++(0,18.7) -| (s12u1.north);
  \draw[black!55, line width=0.7pt] (s12org.south) -- ++(0,18.7) -| (s12u2.north);
  \draw[black!55, line width=0.7pt] (s12u1.south) -- ++(0,20.6) -| (s12sec1.north);
  \draw[black!55, line width=0.7pt] (s12u1.south) -- ++(0,20.6) -| (s12sec2.north);
  \draw[black!55, line width=0.7pt] (s12u2.south) -- (s12u2.south |- s12sec3.north);
  \foreach \ya/\yb/\yn [count=\i] in {97/104.3/116.7, 150.3/163/175.3, 203.3/218/230.3, 253.3/270/282.7} {
    \bx{palebox, font=\fsz{6.2}\bfseries, text=slatenavy}{s12sub\i}{180.7}{\ya}{239.7}{\ya+44.3}{Sub Title}
    \node[bul] (s12ra\i) at (249.7,\yb) {• 역할을 입력하세요.};
    \node[note] (s12rb\i) at (256.5,\yn) {- 부연 설명을 입력하세요.};
    \node[bul] (s12da\i) at (337.3,\yb) {• 세부 R\&R을 입력하세요.};
    \node[note] (s12db\i) at (344.5,\yn) {- 부연 설명을 입력하세요.};
  }
  \foreach \y in {145.3,200,250}
    \draw[sepline] (182.3,\y) -- (423.7,\y);
\end{scope}

% slide 13: three part framework
\begin{scope}[shift={(18,1522)}]
  \slideframe{s13n}{13}
  \slidehead{s13}
  \sectitle{s13sec}{29.8}{415.6}{93.3}{Framework}
  \bx{fill=paleblue, draw=paleblue!80!mainnavy, line width=0.6pt, rounded corners=8pt}{s13l}{78.1}{109.3}{214.7}{199.3}{}
  \bx{fill=sandlight, draw=sandline, line width=0.6pt, rounded corners=8pt}{s13r}{260.6}{109.3}{395.4}{199.3}{}
  \node[ellipse, minimum width=87.6pt, minimum height=96.6pt, draw=white, line width=3pt, top color=black!5, bottom color=black!24] (s13c) at (236.7,154.3) {};
  \bx{fill=white, draw=mainnavy!80, line width=0.9pt, font=\fsz{6}}{s13t1}{93.5}{121.7}{178}{136.7}{Title}
  \bx{fill=white, draw=black!35, line width=0.9pt, font=\fsz{6}}{s13t2}{208.6}{121.7}{265}{136.7}{Title}
  \bx{fill=white, draw=sandline, line width=0.9pt, font=\fsz{6}}{s13t3}{295.5}{121.7}{380}{136.7}{Title}
  \foreach \y [count=\i] in {151.3,165,178.7} {
    \node[font=\fsz{4.6}, text=black!70, anchor=west] (s13la\i) at (94,\y) {• 세부내용};
    \node[font=\fsz{4.6}, text=black!70, anchor=west] (s13ca\i) at (210,\y) {• 세부내용};
    \node[font=\fsz{4.6}, text=black!70, anchor=west] (s13ra\i) at (308.4,\y+1) {• 세부내용};
  }
  \shade[left color=mainnavy!35, right color=paleblue] (184,144.5) -- (172.5,154.3) -- (184,164.1) -- (180,154.3) -- cycle;
  \shade[left color=sand, right color=sandline] (288.5,144.5) -- (300,154.3) -- (288.5,164.1) -- (292.5,154.3) -- cycle;
  \node[font=\fsz{5}\bfseries] (s13tl1) at (46.3,153.7) {Title :};
  \node[font=\fsz{5}\bfseries] (s13tl2) at (46.3,261) {Title :};
  \shade[top color=white, bottom color=black!35] (165.7,231) -- (236.7,213.7) -- (306.6,231) -- cycle;
  \bx{fill=darkgraybox, draw=black!30, rounded corners=5pt}{s13d1}{78.1}{235.3}{231.8}{286}{}
  \bx{fill=darkgraybox, draw=black!30, rounded corners=5pt}{s13d2}{242.3}{235.3}{395.4}{286}{}
  \node[font=\fsz{6.5}\bfseries, text=white] (s13dt1) at (135,261) {세부내용};
  \node[font=\fsz{6.5}\bfseries, text=white] (s13dt2) at (336,261) {세부내용};
  \node[circle, fill=black, draw=white, line width=1.5pt, minimum size=20pt] (s13plus) at (236.7,261) {};
  \draw[white, line width=2.2pt] (230.5,261) -- (242.9,261) (236.7,254.8) -- (236.7,267.2);
\end{scope}

% slide 14: table
\begin{scope}[shift={(493,1522)}]
  \slideframe{s14n}{14}
  \slidehead{s14}
  \sectitle{s14sec}{28}{279.8}{87}{Title (Current Situation)}
  \sectitle{s14key}{312.9}{418.2}{87}{Key Findings}
  \bx{navybox, font=\fsz{4}\bfseries}{s14th}{28}{93.7}{279.8}{106.7}{Title}
  \bx{palebox}{s14sh}{28}{106.7}{279.8}{117}{}
  \fill[black!15] (28,117) rectangle (55.7,307);
  \foreach \x [count=\i] in {41.8,74.3,123,216.4}
    \node[font=\fsz{3.5}\bfseries, text=slatenavy] (s14c\i) at (\x,111.9) {Title};
  \foreach \lab [count=\i] in {A,B,C,D,E,F,G,H,I,J,K,L,M,N,O} {
    \node[font=\fsz{3.3}, text=black!60] (s14r\i) at (41.8,{110.7+12.6*\i}) {\lab};
    \draw[paleblue!80, line width=0.8pt] (55.7,{117+12.6*\i}) -- (279.8,{117+12.6*\i});
  }
  \foreach \x in {55.7,93,153,279.8}
    \draw[black!25, line width=0.5pt] (\x,106.7) -- (\x,307);
  \draw[quotered, line width=1pt, dash pattern=on 1pt off 1.3pt] (93,105) rectangle (153,308);
  \fill[white] (18,297) .. controls (45,313) and (95,312) .. (135,301) .. controls (175,290) and (235,290) .. (288,296) -- (288,318) -- (18,318) -- cycle;
  \draw[black!35, line width=0.6pt] (18,297) .. controls (45,313) and (95,312) .. (135,301) .. controls (175,290) and (235,290) .. (288,296);
  \fadearrow{290.8}{310.4}{100}{300}
  \foreach \y [count=\i] in {133.7,178.3,219} {
    \node[finding] (s14fa\i) at (318.4,\y) {• 좌측 내용을 바탕으로 도출};
    \node[finding] (s14fb\i) at (324,\y+12.4) {된 주요 내용을 입력하세요.};
  }
\end{scope}

% slide 15: bar charts
\begin{scope}[shift={(967,1522)}]
  \slideframe{s15n}{15}
  \slidehead{s15}
  \bx{whitebox, draw=black!50, line width=0.8pt}{s15pl}{33}{81.7}{216.3}{297}{}
  \bx{navybox, font=\fsz{6.5}\bfseries}{s15hl}{33}{81.7}{216.3}{97.7}{Title}
  \bx{whitebox, draw=black!50, line width=0.8pt}{s15pr}{227}{81.7}{410.3}{297}{}
  \bx{navybox, font=\fsz{6.5}\bfseries}{s15hr}{227}{81.7}{410.3}{97.7}{Title}
  \draw[black!60, line width=0.5pt] (56.3,115) -- (56.3,283.3);
  \foreach \y in {115,148.7,182.3,216,249.7,283.3}
    \draw[black!60, line width=0.5pt] (54.3,\y) -- (56.3,\y);
  \foreach \nm/\ya/\yb/\xr in {E/121/141.3/191, D/155/175.3/163.3, C/189/209.3/117.7, B/223/243.3/99, A/257/277/60.7} {
    \bx{palebox}{s15l\nm}{56.3}{\ya}{\xr}{\yb}{}
    \node[font=\fsz{3.6}\bfseries] (s15lc\nm) at (44.7,{(\ya+\yb)/2}) {{\nm}사례};
  }
  \foreach \nm/\val in {E/28.3\%, D/20.5\%, C/17.5\%, B/12.3\%}
    \node[font=\fsz{3.6}\bfseries, anchor=east] (s15lv\nm) at ([xshift=-3pt]s15l\nm.east) {\val};
  \node[font=\fsz{3.6}\bfseries, anchor=west] (s15lvA) at ([xshift=1pt]s15lA.east) {1.2\%};
  \draw[black!60, line width=0.5pt] (259,114.3) -- (259,273.7);
  \foreach \y in {114.3,137,159.8,182.6,205.4,228.1,250.9,273.7}
    \draw[black!60, line width=0.5pt] (257,\y) -- (259,\y);
  \foreach \nm/\ya/\yb/\xr/\val in {G/118.7/132.7/368.7/24.0\%, F/141.3/155.3/353.7/20.8\%, E/163.7/178/351/20.1\%, D/186.7/200.7/351/20.1\%, C/209.7/223.3/344.3/18.8\%, B/232/246/319/13.0\%, A/255/269/371/24.7\%} {
    \bx{palebox}{s15r\nm}{259}{\ya}{\xr}{\yb}{}
    \node[font=\fsz{3.6}\bfseries] (s15rc\nm) at (247.3,{(\ya+\yb)/2}) {{\nm}사례};
    \node[font=\fsz{3.6}\bfseries, anchor=east] (s15rv\nm) at ([xshift=-3pt]s15r\nm.east) {\val};
  }
  \chartnote{s15note}{37}{311.7}
\end{scope}

% slide 16: pie and stacked bars
\begin{scope}[shift={(18,1901)}]
  \slideframe{s16n}{16}
  \slidehead{s16}
  \sectitle{s16sec}{26.7}{280.2}{87.3}{Title}
  \sectitle{s16key}{313.3}{419.2}{87.3}{Key Findings}
  \bx{whitebox, draw=black!40}{s16p1}{26.7}{97.3}{280.2}{197.3}{}
  \fill[paleblue] (27,97.6) rectangle (51.2,197);
  \node[font=\fontsize{5.5}{10}\selectfont\bfseries, align=center] (s16st1) at (39,147) {Sub\\Title};
  \fill[black!45] (92.2,155) ellipse (43.8 and 30);
  \fill[black!45] (48.4,149) rectangle (136,155);
  \shade[top color=black!10, bottom color=black!30] (92.2,149) ellipse (43.8 and 30);
  \fill[slatenavy] (134,160) -- (138,148) -- (138,154) -- (134,166) -- cycle;
  \shade[left color=mainnavy!70, right color=mainnavy] (101,151) -- (133,137) -- (138,148) -- (134,160) -- cycle;
  \node[font=\fsz{3}, text=black!55] (s16pa) at (86,131) {A Group};
  \node[font=\fsz{3}, text=white] (s16pb) at (127,151) {B Group};
  \bx{fill=black!18, draw=black!40, line width=0.5pt, font=\fsz{4.2}}{s16ga}{162}{110}{202.5}{144}{A Group}
  \bx{navybox, font=\fsz{4.2}}{s16gb}{162}{151.3}{202.5}{184}{B Group}
  \foreach \y [count=\i] in {119.7,160.7,225,269.7} {
    \node[bul, font=\fsz{5.4}\bfseries] (s16ia\i) at (210.4,\y) {• 주요이슈사항};
    \node[note, font=\fsz{4.6}] (s16ib\i) at (215,\y+12) {- 부연 설명};
  }
  \bx{whitebox, draw=black!40}{s16p2}{26.7}{205.7}{280.2}{305}{}
  \fill[paleblue] (27,206) rectangle (51.2,304.7);
  \node[font=\fontsize{5.5}{10}\selectfont\bfseries, align=center] (s16st2) at (39,255.7) {Sub\\Title};
  \bx{navybox, font=\fsz{4.2}\bfseries}{s16g1}{64.7}{214.7}{94}{248.3}{증가분}
  \bx{whitebox, draw=black!35, font=\fsz{4.2}, text=black!60}{s16k1}{64.7}{248.3}{94}{297.3}{기존}
  \bx{fill=black!20, draw=black!35, line width=0.5pt, font=\fsz{3.5}, text=black!60}{s16g2}{111.8}{231.3}{143}{248.3}{증가일부}
  \bx{whitebox, draw=black!35, font=\fsz{4.2}, text=black!60}{s16k2}{111.8}{248.3}{143}{297.3}{기존}
  \bx{whitebox, draw=black!35, font=\fsz{3.5}\bfseries, text=quotered}{s16gap}{106.3}{219}{143}{226.3}{개선}
  \draw[black!50, line width=0.6pt] (55.5,297.3) -- (148.6,297.3);
  \bx{navybox, font=\fsz{4.4}\bfseries}{s16gc}{162}{214.7}{202.5}{247.3}{증가분}
  \bx{fill=black!18, draw=black!40, line width=0.5pt, font=\fsz{4.4}\bfseries}{s16gd}{162}{259}{202.5}{292.3}{증가일부}
  \fadearrow{291}{312.7}{100}{300}
  \foreach \y [count=\i] in {134,178.7,218.7} {
    \node[finding] (s16fa\i) at (318.8,\y) {• 좌측 내용을 바탕으로 도출};
    \node[finding] (s16fb\i) at (325,\y+12.3) {된 주요 내용을 입력하세요.};
  }
  \chartnote{s16note}{29.8}{317}
\end{scope}

% slide 17: three items
\begin{scope}[shift={(493,1901)}]
  \slideframe{s17n}{17}
  \slidehead{s17}
  \sectitle{s17sec}{30.6}{186.7}{92.7}{Title}
  \sectitle{s17iss}{195.9}{303}{92.7}{Key Issues}
  \sectitle{s17det}{309.2}{410.3}{92.7}{세부 사항}
  \node[sphere] (s17top) at (110.2,148.3) {Item};
  \node[sphere] (s17left) at (56.3,230.7) {Item};
  \node[sphere] (s17right) at (162.2,230.7) {Item};
  \draw[edgeblue, line width=3.5pt] (s17top) -- (s17left);
  \draw[edgeblue, line width=3.5pt] (s17top) -- (s17right);
  \draw[edgeblue, line width=5pt] (s17left) -- (s17right);
  \draw[black!40, line width=0.5pt] (s17top.50) -- (134.7,121.7) -- (192.8,121.7);
  \draw[black!40, line width=0.5pt] (s17right.60) -- (174.5,196.3) -- (192.8,196.3);
  \draw[black!40, line width=0.5pt] (s17left.-50) -- (83.8,269) -- (192.8,269);
  \draw[black!30, line width=0.5pt] (194,107.3) -- (194,154) (194,175.7) -- (194,214) (194,230.7) -- (194,290.7);
  \draw[sepline] (199,160.7) -- (413,160.7);
  \draw[sepline] (199,218.3) -- (413,218.3);
  \foreach \y [count=\i] in {115.7,180.7,237.3,273.3} {
    \node[bul] (s17ia\i) at (199,\y) {• 핵심 이슈를 입력하세요.};
    \node[note] (s17ib\i) at (204,\y+12.5) {- 부연 설명을 입력하세요.};
    \node[bul] (s17da\i) at (310.4,\y) {• 핵심 이슈를 입력하세요.};
    \node[note] (s17db\i) at (315.4,\y+12.5) {- 부연 설명을 입력하세요.};
  }
\end{scope}

% slide 18: best vs current process
\begin{scope}[shift={(967,1901)}]
  \slideframe{s18n}{18}
  \slidehead{s18}
  \sectitle{s18sec}{31.3}{214.7}{92.7}{Best Process}
  \sectitle{s18cur}{231.3}{414.7}{92.7}{현재 Process}
  \bx{graybox}{s18bg}{231.3}{99}{414}{295}{}
  \foreach \ya/\yb/\yt [count=\i] in {100/162.3/126.7, 166.7/228.3/194, 232.3/295/260} {
    \fill[mainnavy] (31.3,\ya) -- (70.3,\ya) -- (70.3,\yb-10) -- (50.8,\yb) -- (31.3,\yb-10) -- cycle;
    \node[letterbox, minimum size=9pt, font=\fsz{5.5}\bfseries, anchor=north west] (s18k\i) at (31.3,\ya) {\i};
    \node[font=\fsz{6.5}\bfseries, text=white] (s18t\i) at (50.8,\yt) {Title};
  }
  \foreach \y [count=\i] in {111.7,178,246.7} {
    \node[bul] (s18ba\i) at (79.7,\y) {• 본 프로세스 단계의 주요 내용을 입력하세요.};
    \node[note] (s18bb\i) at (86,\y+12.3) {- 부연 설명을 입력하세요.};
    \node[note] (s18bc\i) at (86,\y+24.3) {- 부연 설명을 입력하세요.};
    \node[bul] (s18ca\i) at (243,\y) {• 본 프로세스의 주요 내용을 입력하세요.};
    \node[note] (s18cb\i) at (250,\y+12.3) {- 부연 설명을 입력하세요.};
    \node[note] (s18cc\i) at (250,\y+24.3) {- 부연 설명을 입력하세요.};
  }
  \foreach \y in {164,230} {
    \draw[sepline] (75.7,\y) -- (214,\y);
    \draw[sepline] (238,\y) -- (408.7,\y);
  }
  \node[circle, fill=black!70, draw=black!35, line width=1.5pt, minimum size=18pt, font=\fsz{5}\bfseries, text=white] (s18vs) at (228,197.3) {VS};
\end{scope}

\end{tikzpicture}
\end{document}
